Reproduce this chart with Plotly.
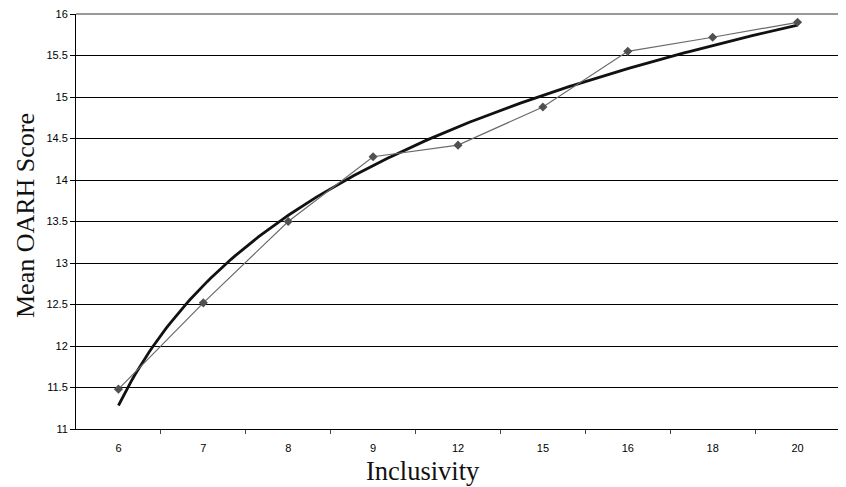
import numpy as np
import plotly.graph_objects as go

categories = ["6", "7", "8", "9", "12", "15", "16", "18", "20"]
mean_scores = [11.48, 12.52, 13.50, 14.28, 14.42, 14.88, 15.55, 15.72, 15.90]
y_ticks = [11, 11.5, 12, 12.5, 13, 13.5, 14, 14.5, 15, 15.5, 16]

idx = np.arange(len(categories))
# Logarithmic trendline (least squares on ln(position), as in a spreadsheet)
ln_pos = np.log(idx + 1)
a, b = np.polyfit(ln_pos, np.array(mean_scores), 1)
xt = np.linspace(0, len(categories) - 1, 200)
yt = a * np.log(xt + 1) + b

# page has an 8px body margin: figure coordinates = page coordinates - 8
OFF = 8
W, H = 846 - OFF, 487 - OFF
L, T = 76 - OFF, 14 - OFF
R = W - (840 - OFF)
B = H - (429 - OFF)
pw, ph = W - L - R, H - T - B

fig = go.Figure()
fig.add_trace(go.Scatter(x=xt, y=yt, mode="lines",
                         line=dict(color="#111111", width=2.8),
                         showlegend=False, hoverinfo="skip"))
fig.add_trace(go.Scatter(x=idx, y=mean_scores, mode="lines+markers",
                         line=dict(color="#6a6a6a", width=1.2),
                         marker=dict(symbol="diamond", size=7, color="#505050"),
                         showlegend=False))
# invisible trace for boundary tick axis
fig.add_trace(go.Scatter(x=[0], y=[11], xaxis="x2", mode="markers",
                         marker=dict(opacity=0), showlegend=False, hoverinfo="skip"))

tick_font = dict(family="Liberation Sans, Arial, sans-serif", size=11, color="#000")
xtitle_font = dict(family="Liberation Serif, Times New Roman, serif", size=26.5, color="#111")
ytitle_font = dict(family="Liberation Serif, Times New Roman, serif", size=26, color="#111")

def px_x(page_x):
    return (page_x - OFF - L) / pw

def px_y(page_y):
    return (T + ph - (page_y - OFF)) / ph

fig.update_layout(
    width=W, height=H,
    margin=dict(l=L, r=R, t=T, b=B, autoexpand=False),
    paper_bgcolor="white", plot_bgcolor="white",
    xaxis=dict(range=[-0.5, len(categories) - 0.5], tickvals=list(idx), ticktext=categories,
               ticks="", showgrid=False, zeroline=False, showline=True,
               linecolor="#000", linewidth=1, tickfont=tick_font,
               ticklabelstandoff=9, ticklabeloverflow="allow"),
    xaxis2=dict(overlaying="x", range=[-0.5, len(categories) - 0.5],
                tickvals=[i + 0.5 for i in range(len(categories) - 1)],
                ticks="outside", ticklen=4, tickcolor="#444", showticklabels=False,
                showgrid=False, zeroline=False, showline=False, side="bottom"),
    yaxis=dict(range=[11, 16], tickvals=y_ticks, ticktext=[f"{v:g}" for v in y_ticks],
               ticks="outside", ticklen=5, tickcolor="#000", showgrid=True,
               gridcolor="#000", gridwidth=1, zeroline=False, showline=True,
               linecolor="#000", linewidth=1, tickfont=tick_font,
               ticklabeloverflow="allow"),
    annotations=[
        dict(text="Inclusivity", xref="paper", yref="paper",
             x=px_x(423), y=px_y(471),
             xanchor="center", yanchor="middle", showarrow=False, font=xtitle_font),
        dict(text="Mean OARH Score", xref="paper", yref="paper",
             x=px_x(25), y=px_y(216),
             xanchor="center", yanchor="middle", textangle=-90,
             showarrow=False, font=ytitle_font),
    ],
    shapes=[
        dict(type="line", xref="paper", yref="paper", x0=1, x1=1, y0=0, y1=1,
             line=dict(color="#888", width=1.5)),
        dict(type="line", xref="paper", yref="paper", x0=0, x1=1, y0=1, y1=1,
             line=dict(color="#333", width=1)),
    ],
)

fig.write_html("out.html")
